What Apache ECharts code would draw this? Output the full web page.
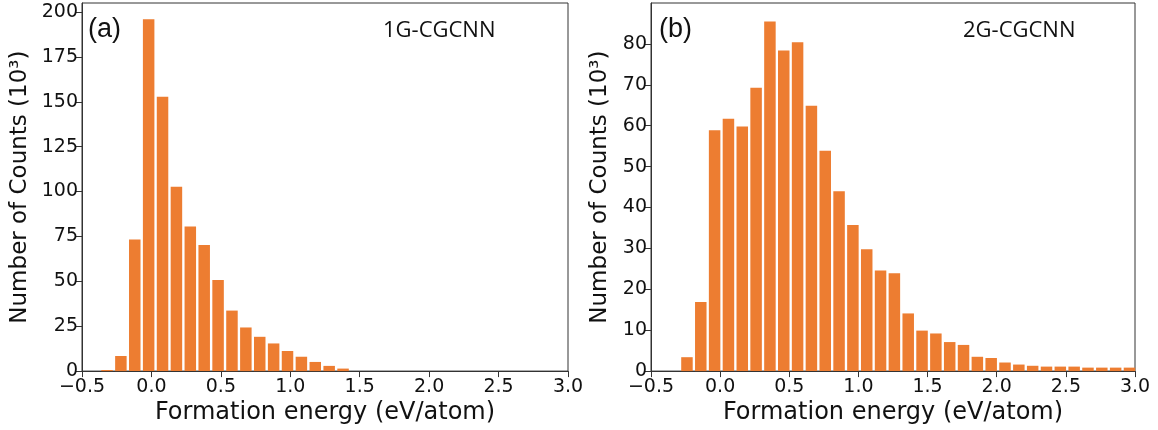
<!DOCTYPE html>
<html>
<head>
<meta charset="utf-8">
<script src="https://cdn.jsdelivr.net/npm/echarts@6/dist/echarts.min.js"></script>
<style>
  html, body { margin: 0; padding: 0; background: #fff; }
  #chart { width: 1158px; height: 430px; }
</style>
</head>
<body>
<div id="chart"></div>
<script>
// ---- Data ----
// Panel (a): 1G-CGCNN histogram, bin centres (eV/atom) and counts (10^3)
const binsA = [-0.32, -0.22, -0.12, -0.02, 0.08, 0.18, 0.28, 0.38, 0.48, 0.58,
               0.68, 0.78, 0.88, 0.98, 1.08, 1.18, 1.28, 1.38];
const countsA = [0.6, 8.4, 73.3, 195.9, 152.8, 102.7, 80.5, 70.2, 50.7, 33.7,
                 24.3, 19.1, 15.4, 11.2, 8.0, 5.1, 2.9, 1.4];

// Panel (b): 2G-CGCNN histogram
const binsB = [-0.24, -0.14, -0.04, 0.06, 0.16, 0.26, 0.36, 0.46, 0.56, 0.66,
               0.76, 0.86, 0.96, 1.06, 1.16, 1.26, 1.36, 1.46, 1.56, 1.66,
               1.76, 1.86, 1.96, 2.06, 2.16, 2.26, 2.36, 2.46, 2.56, 2.66,
               2.76, 2.86, 2.96];
const countsB = [3.4, 16.9, 58.9, 61.7, 59.8, 69.3, 85.5, 78.4, 80.4, 64.9,
                 53.9, 44.0, 35.7, 29.8, 24.6, 23.9, 14.1, 9.9, 9.2, 7.1,
                 6.4, 3.5, 3.2, 2.1, 1.6, 1.3, 1.1, 1.1, 1.1, 0.85,
                 0.85, 0.85, 0.85];

const xTicks = [-0.5, 0.0, 0.5, 1.0, 1.5, 2.0, 2.5, 3.0];
const yTicksA = [0, 25, 50, 75, 100, 125, 150, 175, 200];
const yTicksB = [0, 10, 20, 30, 40, 50, 60, 70, 80];
const yMaxA = 205;
const yMaxB = 90;

const panelLetters = ['(a)', '(b)'];
const panelTitles = ['1G-CGCNN', '2G-CGCNN'];
const xName = 'Formation energy (eV/atom)';
const yName = 'Number of Counts (10³)';

// ---- Styles ----
const BAR_COLOR = '#ED7D31';
const AXIS_COLOR = '#333333';
const TICK_FONT = 'DejaVu Sans';

function pairs(xs, ys) { return xs.map((x, i) => [x, ys[i]]); }
function fmtX(v) { return v.toFixed(1).replace('-', '\u2212'); }

function makeXAxis(gridIndex) {
  return {
    type: 'value', gridIndex: gridIndex, min: -0.5, max: 3.0, interval: 0.5,
    name: xName, nameLocation: 'middle', nameGap: 29,
    nameTextStyle: { fontFamily: TICK_FONT, fontSize: 24, color: '#111' },
    axisLine: { show: true, onZero: false, lineStyle: { color: AXIS_COLOR, width: 1 } },
    axisTick: { show: true, inside: false, length: 6, lineStyle: { color: AXIS_COLOR }, customValues: xTicks },
    axisLabel: { show: true, margin: 6, fontFamily: TICK_FONT, fontSize: 19, color: '#111',
                 customValues: xTicks, formatter: fmtX },
    splitLine: { show: false }
  };
}
function makeYAxis(gridIndex, max, ticks, gap) {
  return {
    type: 'value', gridIndex: gridIndex, min: 0, max: max,
    name: yName, nameLocation: 'middle', nameGap: gap,
    nameTextStyle: { fontFamily: TICK_FONT, fontSize: 23, color: '#111' },
    axisLine: { show: true, onZero: false, lineStyle: { color: AXIS_COLOR, width: 1 } },
    axisTick: { show: true, inside: false, length: 6, lineStyle: { color: AXIS_COLOR }, customValues: ticks },
    axisLabel: { show: true, margin: 4, fontFamily: TICK_FONT, fontSize: 19, color: '#111',
                 customValues: ticks, formatter: v => String(v) },
    splitLine: { show: false }
  };
}

const chart = echarts.init(document.getElementById('chart'), null, { renderer: 'canvas' });
chart.setOption({
  backgroundColor: '#ffffff',
  animation: false,
  grid: [
    { left: 82, width: 486, top: 3, bottom: 57.5, show: true, borderColor: AXIS_COLOR, borderWidth: 1, backgroundColor: 'transparent' },
    { left: 651, width: 484, top: 3, bottom: 57.5, show: true, borderColor: AXIS_COLOR, borderWidth: 1, backgroundColor: 'transparent' }
  ],
  xAxis: [makeXAxis(0), makeXAxis(1)],
  yAxis: [makeYAxis(0, yMaxA, yTicksA, 50), makeYAxis(1, yMaxB, yTicksB, 39)],
  series: [
    { type: 'bar', xAxisIndex: 0, yAxisIndex: 0, data: pairs(binsA, countsA),
      barWidth: 11.5, itemStyle: { color: BAR_COLOR }, clip: true },
    { type: 'bar', xAxisIndex: 1, yAxisIndex: 1, data: pairs(binsB, countsB),
      barWidth: 11.5, itemStyle: { color: BAR_COLOR }, clip: true }
  ],
  graphic: [
    { type: 'text', left: 88, top: 16, style: { text: panelLetters[0], font: '27px "Liberation Sans"', fill: '#111' } },
    { type: 'text', left: 659, top: 16, style: { text: panelLetters[1], font: '27px "Liberation Sans"', fill: '#111' } },
    { type: 'text', left: 383, top: 20, style: { text: panelTitles[0], font: '22px "Open Sans"', fill: '#111' } },
    { type: 'text', left: 963, top: 20, style: { text: panelTitles[1], font: '22px "Open Sans"', fill: '#111' } }
  ]
});
</script>
</body>
</html>
